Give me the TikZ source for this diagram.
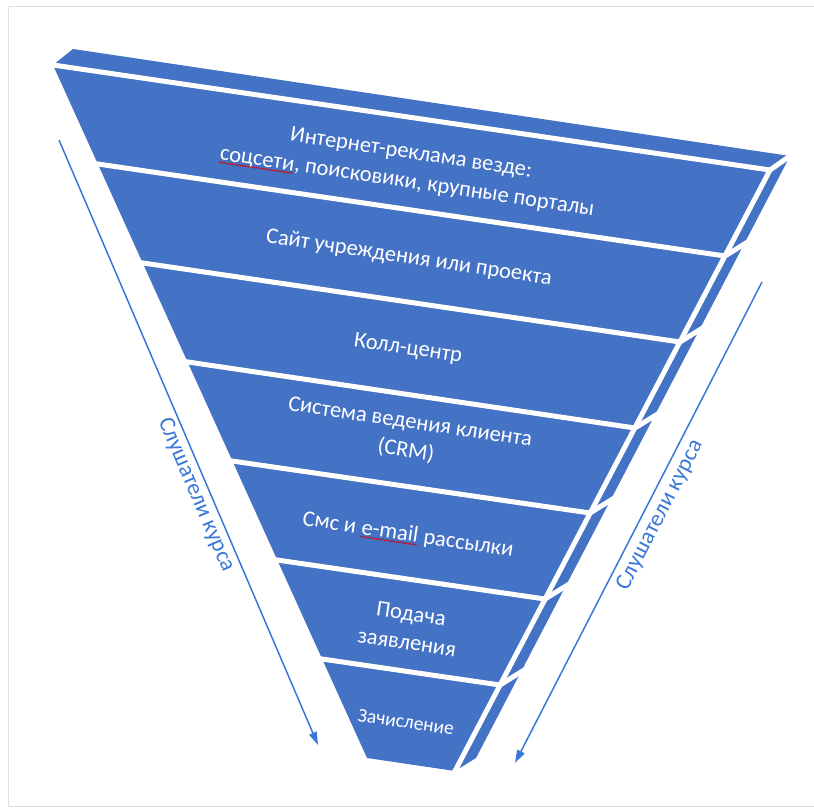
\documentclass[tikz,border=0pt]{standalone}
\usepackage{fontspec}
\setmainfont{Carlito}
\usetikzlibrary{arrows.meta, decorations.pathmorphing}
\definecolor{funnel}{HTML}{4472C4}
\definecolor{flow}{HTML}{3A78D8}
\newcommand\typo[1]{\tikz[baseline=(w.base)]{\node[inner sep=0pt, anchor=base] (w) {#1};
	\draw[red!85!black, line width=0.5pt, decorate, decoration={snake, amplitude=0.8pt, segment length=2.5pt}] ([yshift=-2.5pt]w.base west) -- ([yshift=-2.5pt]w.base east);}}

\begin{document}
\begin{tikzpicture}[x=1pt, y=-1pt,
	face/.style = {fill=funnel},
	gap/.style = {draw=white, line width=5pt},
	stage/.style = {text=white, font=\fontsize{22.5}{29}\selectfont, align=center, rotate=-8.5},
	flowline/.style = {draw=flow, line width=1.5pt, -{Triangle[length=13pt,width=8pt]}},
	listener/.style = {text=flow, font=\fontsize{23}{28}\selectfont}]
	\useasboundingbox (0,0) rectangle (814,808);
	\draw[gray!25, line width=1pt] (8,7) rectangle (830,806);
	% left edge of the front
	\coordinate (l0) at (53,65);
	\coordinate (l1) at (98,164);
	\coordinate (l2) at (143,263);
	\coordinate (l3) at (188,362);
	\coordinate (l4) at (232,461);
	\coordinate (l5) at (277,560);
	\coordinate (l6) at (322,659);
	\coordinate (l7) at (367,758);
	% right edge of the front
	\coordinate (r0) at (770,170);
	\coordinate (r1) at (725,256);
	\coordinate (r2) at (680,342);
	\coordinate (r3) at (635,428);
	\coordinate (r4) at (590,513);
	\coordinate (r5) at (545,599);
	\coordinate (r6) at (500,685);
	\coordinate (r7) at (455,771);
	% back edge of the side
	\coordinate (s0) at (790,156);
	\coordinate (s1) at (746,243);
	\coordinate (s2) at (701,329);
	\coordinate (s3) at (656,415);
	\coordinate (s4) at (611,500);
	\coordinate (s5) at (566,586);
	\coordinate (s6) at (521,672);
	\coordinate (s7) at (476,758);
	\coordinate (t0) at (73,49);
	% funnel body
	\fill[face] (l0) -- (r0) -- (r7) -- (l7) -- cycle;
	\fill[face] (r0) -- (s0) -- (s7) -- (r7) -- cycle;
	\fill[face] (l0) -- (t0) -- (s0) -- (r0) -- cycle;
	\draw[gap, shorten <=-4pt] (l0) -- (r0);
	\draw[gap, shorten <=-4pt] (l1) -- (r1);
	\draw[gap, shorten <=-4pt] (l2) -- (r2);
	\draw[gap, shorten <=-4pt] (l3) -- (r3);
	\draw[gap, shorten <=-4pt] (l4) -- (r4);
	\draw[gap, shorten <=-4pt] (l5) -- (r5);
	\draw[gap, shorten <=-4pt] (l6) -- (r6);
	\draw[gap, shorten >=-4pt] (r0) -- (r7);
	\draw[gap, shorten >=-4pt] (r0) -- (s0);
	\draw[gap, shorten >=-4pt] (r1) -- (s1);
	\draw[gap, shorten >=-4pt] (r2) -- (s2);
	\draw[gap, shorten >=-4pt] (r3) -- (s3);
	\draw[gap, shorten >=-4pt] (r4) -- (s4);
	\draw[gap, shorten >=-4pt] (r5) -- (s5);
	\draw[gap, shorten >=-4pt] (r6) -- (s6);
	% stages
	\node[stage] (ads) at (409,168) {Интернет-реклама везде:\\\typo{соцсети}, поисковики, крупные порталы};
	\node[stage] (site) at (409,258) {Сайт учреждения или проекта};
	\node[stage] (call) at (408,349) {Колл-центр};
	\node[stage] (crm) at (408,437) {Система ведения клиента\\(CRM)};
	\node[stage] (mail) at (408,535) {Смс и \typo{e-mail} рассылки};
	\node[stage] (apply) at (409,628) {Подача\\заявления};
	\node[stage, font=\fontsize{19.5}{24}\selectfont] (enrol) at (406,722) {Зачисление};
	% listeners
	\coordinate (la) at (59,140);
	\coordinate (lb) at (318,745);
	\coordinate (ra) at (762,282);
	\coordinate (rb) at (515,763);
	\draw[flowline] (la) -- (lb);
	\draw[flowline] (ra) -- (rb);
	\node[listener, rotate=-66.8] (left) at (196,495) {Слушатели курса};
	\node[listener, rotate=62.8] (right) at (660,515) {Слушатели курса};
\end{tikzpicture}
\end{document}
